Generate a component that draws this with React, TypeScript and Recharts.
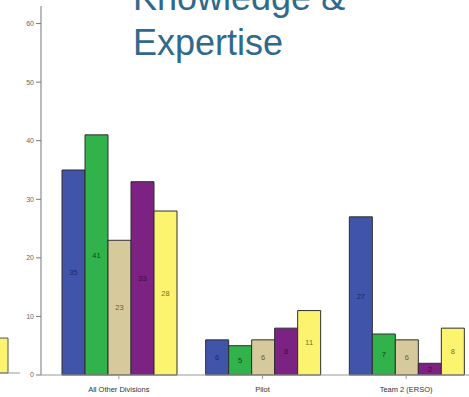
import { Bar, BarChart, LabelList, XAxis, YAxis } from "recharts";

const categories = ["All Other Divisions", "Pilot", "Team 2 (ERSO)"];
const seriesA = [35, 6, 27];
const seriesB = [41, 5, 7];
const seriesC = [23, 6, 6];
const seriesD = [33, 8, 2];
const seriesE = [28, 11, 8];

// edge of the neighbouring chart on the left
const neighbourCategories = ["prev"];
const neighbourValues = [6];

const seriesKeys = ["a", "b", "c", "d", "e"];
const fills = ["#4055aa", "#31b24b", "#d6ca9c", "#7b2282", "#fcf46e"];
const labelColors = ["#1c2766", "#0d4a1a", "#6b5e2c", "#3a0e40", "#7a6f20"];

const data = categories.map((name, i) => ({
  name,
  a: seriesA[i],
  b: seriesB[i],
  c: seriesC[i],
  d: seriesD[i],
  e: seriesE[i],
}));

const neighbourData = neighbourCategories.map((name, i) => ({ name, v: neighbourValues[i] }));

const font = "'Liberation Sans', Arial, sans-serif";

export default function App() {
  return (
    <div
      style={{
        position: "absolute",
        left: 0,
        top: 0,
        width: 469,
        height: 397,
        overflow: "hidden",
        background: "#fff",
        fontFamily: font,
      }}
    >
      <div style={{ position: "absolute", left: -32, top: 0 }}>
        <BarChart
          width={52}
          height={395}
          data={neighbourData}
          margin={{ top: 6, right: 0, bottom: 0, left: 0 }}
          barCategoryGap={0}
        >
          <XAxis
            dataKey="name"
            tick={false}
            tickLine={false}
            stroke="#9a9a9a"
            padding={{ left: 0, right: 12 }}
            height={22}
          />
          <YAxis hide domain={[0, 63]} />
          <Bar dataKey="v" fill="#fcf46e" stroke="#555" strokeWidth={1} isAnimationActive={false} />
        </BarChart>
      </div>

      <div style={{ position: "absolute", left: 0, top: 0 }}>
        <BarChart
          width={480}
          height={397}
          data={data}
          margin={{ top: 6, right: 2, bottom: 0, left: 0 }}
          barCategoryGap={15}
          barGap={0}
        >
          <XAxis
            dataKey="name"
            stroke="#9a9a9a"
            tickSize={4}
            tickMargin={8}
            height={22}
            padding={{ left: 6, right: 0 }}
            tick={{ fontSize: 7.5, fill: "#333", fontFamily: font }}
            interval={0}
          />
          <YAxis
            width={41}
            domain={[0, 63]}
            ticks={[0, 10, 20, 30, 40, 50, 60]}
            stroke="#777"
            tickSize={5}
            tickMargin={2}
            tick={{ fontSize: 7, fill: "#666", fontFamily: font }}
          />
          {seriesKeys.map((key, i) => (
            <Bar
              key={key}
              dataKey={key}
              fill={fills[i]}
              stroke="#2e2e2e"
              strokeWidth={1}
              isAnimationActive={false}
            >
              <LabelList
                dataKey={key}
                position="center"
                fill={labelColors[i]}
                fontSize={7.5}
                fontFamily={font}
              />
            </Bar>
          ))}
        </BarChart>
      </div>

      <div
        style={{
          position: "absolute",
          left: 133,
          top: -25,
          fontSize: 36,
          lineHeight: "45px",
          color: "#30698a",
          fontFamily: font,
          whiteSpace: "nowrap",
        }}
      >
        Knowledge &amp;
        <br />
        Expertise
      </div>
    </div>
  );
}
